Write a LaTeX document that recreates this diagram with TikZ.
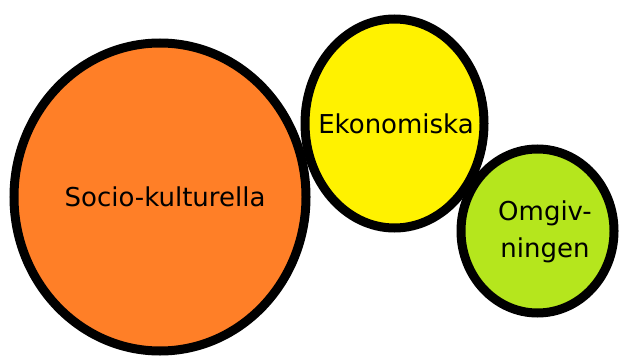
\documentclass[tikz,border=0pt]{standalone}
\usepackage{fontspec}
\setmainfont{DejaVu Sans}
\definecolor{paintorange}{HTML}{FF7F27}
\definecolor{paintyellow}{HTML}{FFF200}
\definecolor{paintlime}{HTML}{B5E61D}
\begin{document}
\begin{tikzpicture}[x=1pt,y=-1pt,
  area/.style={draw=black,line width=9pt},
  lbl/.style={font=\fontsize{26}{37}\selectfont,align=center,inner sep=0pt}]
\useasboundingbox (0,0) rectangle (620,358);
\coordinate (socioc) at (160,197);
\coordinate (ekoc) at (394.5,123.5);
\coordinate (omgc) at (537.5,231);
\draw[area,fill=paintorange] (socioc) ellipse [x radius=146,y radius=154];
\draw[area,fill=paintyellow] (ekoc) ellipse [x radius=89.5,y radius=104.5];
\draw[area,fill=paintlime] (omgc) ellipse [x radius=76.5,y radius=82];
\node[lbl] (socio) at (165,197) {Socio-kulturella};
\node[lbl] (eko) at (396,124) {Ekonomiska};
\node[lbl] (omg) at (545,232) {Omgiv-\\ningen};
\end{tikzpicture}
\end{document}
